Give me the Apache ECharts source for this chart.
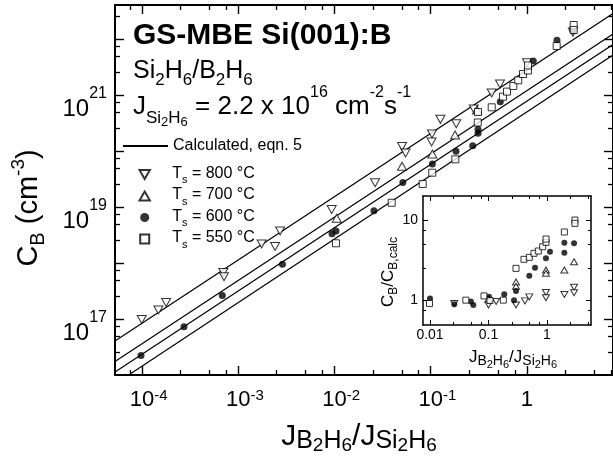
<!DOCTYPE html>
<html>
<head>
<meta charset="utf-8">
<script src="https://cdn.jsdelivr.net/npm/echarts@6/dist/echarts.min.js"></script>
<style>
html,body{margin:0;padding:0;background:#fff;}
#c{width:613px;height:466px;}
</style>
</head>
<body>
<div id="c"></div>
<script>
const FONT = "'Liberation Sans', Arial, Helvetica, sans-serif";

// ---------- main plot: J_B2H6/J_Si2H6 (x) vs C_B in cm^-3 (y) ----------
const x800 = [9.93e-5, 1.48e-4, 1.78e-4, 6.99e-4, 7.11e-4, 1.75e-3, 2.41e-3, 2.72e-3, 9.35e-3, 2.64e-2, 5.03e-2, 5.47e-2, 0.103, 0.102, 0.126, 0.184, 0.28, 0.43, 0.524, 1.0, 3.0];
const y800 = [9.8e16, 1.45e17, 1.97e17, 6.77e17, 5.69e17, 2.18e18, 1.97e18, 3.73e18, 9.02e18, 2.72e19, 1.2e20, 9.21e19, 2.01e20, 1.45e20, 3.68e20, 3.07e20, 5.62e20, 1.09e21, 1.57e21, 3.78e21, 1.33e22];
const x700 = [1.054e-2, 5.03e-2, 0.104, 0.179, 0.302];
const y700 = [6.28e18, 5.33e19, 8.84e19, 1.93e20, 5.4e20];
const x600 = [9.76e-5, 2.73e-4, 6.83e-4, 2.88e-3, 9.42e-3, 1.036e-2, 2.57e-2, 5.13e-2, 0.104, 0.183, 0.273, 0.31, 0.31, 0.528, 1.163, 2.05, 3.0];
const y600 = [2.23e16, 7.29e16, 2.63e17, 9.52e17, 3.34e18, 3.73e18, 8.59e18, 2.74e19, 5.86e19, 9.88e19, 1.24e20, 2.07e20, 2.44e20, 7.59e20, 4.05e21, 9.48e21, 1.42e22];
const x550 = [1.036e-2, 3.93e-2, 8.25e-2, 0.1037, 0.18, 0.308, 0.31, 0.43, 0.563, 0.62, 0.721, 0.812, 0.909, 1.024, 1.024, 2.035, 3.056, 3.056];
const y550 = [2.25e18, 1.19e19, 2.58e19, 4.1e19, 7.11e19, 3.23e20, 4.97e20, 6.03e20, 9.33e20, 1.15e21, 1.45e21, 1.83e21, 2.37e21, 2.74e21, 3.37e21, 7.5e21, 1.78e22, 1.45e22];

// calculated lines (eqn. 5): end points
const calcX = [5.24e-5, 7.83];
const calcX550 = [7.26e-5, 7.83];
const calc800 = [4.05e16, 2.85e22];
const calc700 = [1.74e16, 1.23e22];
const calc600 = [1.13e16, 7.98e21];
const calc550 = [1.0e16, 5.18e21];

// ---------- inset: C_B / C_B,calc ----------
const ix550 = [0.0098, 0.041, 0.0838, 0.106, 0.179, 0.295, 0.404, 0.498, 0.60, 0.71, 0.844, 0.962, 0.962, 1.98, 3.0, 3.0];
const iy550 = [0.92, 1.01, 1.14, 1.0, 1.01, 2.51, 3.25, 3.44, 3.86, 4.12, 4.66, 5.28, 5.81, 7.1, 10.0, 9.1];
const ix600 = [0.01, 0.026, 0.050, 0.055, 0.102, 0.186, 0.273, 0.295, 0.498, 0.624, 0.96, 1.125, 1.98, 1.98, 2.9];
const iy600 = [1.06, 0.90, 0.97, 0.88, 1.11, 1.20, 1.01, 1.31, 2.03, 2.56, 3.34, 4.04, 5.22, 3.93, 5.14];
const ix700 = [0.10, 0.295, 0.295, 0.96, 0.96, 1.98, 2.9];
const iy700 = [1.04, 1.7, 1.5, 2.39, 2.18, 2.39, 3.03];
const ix800 = [0.026, 0.10, 0.135, 0.295, 0.42, 0.498, 0.96, 0.96, 1.98, 2.9, 2.9];
const iy800 = [0.92, 0.88, 0.97, 0.88, 0.99, 1.11, 1.26, 1.08, 1.19, 1.46, 1.25];

// ---------- axis ranges and ticks ----------
const mainXRange = [5.24e-5, 7.83];
const mainYRange = [1e16, 4.05e22];
const insetXRange = [0.00759, 5.65];
const insetYRange = [0.496, 19.9];

const mainXMajor = [1e-4, 1e-3, 1e-2, 1e-1, 1];
const mainXMinor = [7.5e-5, 2.5e-4, 5e-4, 7.5e-4, 2.5e-3, 5e-3, 7.5e-3, 2.5e-2, 5e-2, 7.5e-2, 0.25, 0.5, 0.75, 2.5, 5, 7.5];
const mainXLabels = [1e-4, 1e-3, 1e-2, 1e-1, 1];
const mainYMajor = [1e17, 1e18, 1e19, 1e20, 1e21, 1e22];
const mainYMinor = [2.5e16, 5e16, 7.5e16, 2.5e17, 5e17, 7.5e17, 2.5e18, 5e18, 7.5e18, 2.5e19, 5e19, 7.5e19, 2.5e20, 5e20, 7.5e20, 2.5e21, 5e21, 7.5e21, 2.5e22];
const mainYLabels = [1e17, 1e19, 1e21];
const insetXMajor = [0.01, 0.1, 1];
const insetXMinor = [0.025, 0.05, 0.075, 0.25, 0.5, 0.75, 2.5, 5];
const insetXLabels = [0.01, 0.1, 1];
const insetYMajor = [1, 10];
const insetYMinor = [0.75, 2.5, 5, 7.5];
const insetYLabels = [1, 10];

const zip = (xs, ys) => xs.map((x, i) => [x, ys[i]]);
const DOWN = 'path://M0,0L10,0L5,8.66Z';
const UP = 'path://M5,0L10,8.66L0,8.66Z';
const SQUARE = 'path://M0,0L10,0L10,10L0,10Z';

function axis(gridIndex, position, range, ticks, tickLen, lineW, tickW, label) {
  return {
    type: 'log', logBase: 10, gridIndex: gridIndex, position: position,
    min: range[0], max: range[1],
    axisLine: {show: lineW > 0, onZero: false, lineStyle: {color: '#000', width: lineW}},
    axisTick: {show: true, inside: true, length: tickLen, customValues: ticks, lineStyle: {color: '#000', width: tickW}},
    minorTick: {show: false},
    splitLine: {show: false},
    axisLabel: label || {show: false},
    axisPointer: {show: false},
    silent: true
  };
}

const tok = (size, pad, extra) => Object.assign({fontSize: size, fontFamily: FONT, color: '#000', padding: [pad, 0, 0, 0], verticalAlign: 'top'}, extra || {});

const mainXLabel = {
  show: true, customValues: mainXLabels, margin: 13, color: '#000',
  formatter: function (v) {
    const e = Math.round(Math.log10(v));
    if (e === 0) return '{b|1}';
    return '{sp|' + e + '}{b|10}{s|' + e + '}';
  },
  rich: {b: tok(22, 1), s: tok(15, 0), sp: tok(15, 0, {color: 'rgba(0,0,0,0)'})}
};
const mainYLabel = {
  show: true, customValues: mainYLabels, margin: 8, color: '#000',
  formatter: function (v) {
    const e = Math.round(Math.log10(v));
    return '{b|10}{s|' + e + '}';
  },
  rich: {b: tok(24, 28), s: tok(16, 17)}
};
const insetXLabel = {
  show: true, customValues: insetXLabels, margin: 3, color: '#000', fontSize: 14, fontFamily: FONT,
  formatter: function (v) { return v >= 1 ? '1' : String(v); }
};
const insetYLabel = {
  show: true, customValues: insetYLabels, margin: 5, color: '#000', fontSize: 14, fontFamily: FONT,
  formatter: function (v) { return String(Math.round(v)); }
};

const xAxes = [
  axis(0, 'bottom', mainXRange, mainXMajor, 9, 2, 1.4, mainXLabel),
  axis(0, 'bottom', mainXRange, mainXMinor, 5, 0, 1.3),
  axis(0, 'top', mainXRange, mainXMajor, 9, 2, 1.4),
  axis(0, 'top', mainXRange, mainXMinor, 5, 0, 1.3),
  axis(1, 'bottom', insetXRange, insetXMajor, 5, 1.5, 1, insetXLabel),
  axis(1, 'bottom', insetXRange, insetXMinor, 3, 0, 1),
  axis(1, 'top', insetXRange, insetXMajor, 5, 1.5, 1),
  axis(1, 'top', insetXRange, insetXMinor, 3, 0, 1)
];
const yAxes = [
  axis(0, 'left', mainYRange, mainYMajor, 9, 2, 1.4, mainYLabel),
  axis(0, 'left', mainYRange, mainYMinor, 5, 0, 1.3),
  axis(0, 'right', mainYRange, mainYMajor, 9, 2, 1.4),
  axis(0, 'right', mainYRange, mainYMinor, 5, 0, 1.3),
  axis(1, 'left', insetYRange, insetYMajor, 5, 1.5, 1, insetYLabel),
  axis(1, 'left', insetYRange, insetYMinor, 3, 0, 1),
  axis(1, 'right', insetYRange, insetYMajor, 5, 1.5, 1),
  axis(1, 'right', insetYRange, insetYMinor, 3, 0, 1)
];

const hollow = {color: '#fff', borderColor: '#000', borderWidth: 1};
const solid = {color: '#000', borderColor: '#000', borderWidth: 0};

function calcLine(xs, ys) {
  return {
    type: 'line', name: 'Calculated, eqn. 5', data: zip(xs, ys), xAxisIndex: 0, yAxisIndex: 0,
    symbol: 'none', showSymbol: false, lineStyle: {color: '#000', width: 1.2}, itemStyle: {color: '#000'},
    silent: true, z: 2, clip: true
  };
}
function pts(name, xs, ys, idx, symbol, size, style) {
  return {
    type: 'scatter', name: name, data: zip(xs, ys), xAxisIndex: idx, yAxisIndex: idx,
    symbol: symbol, symbolSize: size, itemStyle: style, silent: true, z: 3
  };
}

const N800 = 'Ts = 800 °C', N700 = 'Ts = 700 °C', N600 = 'Ts = 600 °C', N550 = 'Ts = 550 °C';
const NCALC = 'Calculated, eqn. 5';

const series = [
  calcLine(calcX, calc800),
  calcLine(calcX, calc700),
  calcLine(calcX, calc600),
  calcLine(calcX550, calc550),
  pts(N800, x800, y800, 0, DOWN, [9, 8], hollow),
  pts(N700, x700, y700, 0, UP, [9, 8], hollow),
  pts(N600, x600, y600, 0, 'circle', 7, solid),
  pts(N550, x550, y550, 0, SQUARE, 7, hollow),
  pts(N800, ix800, iy800, 4, DOWN, [7, 6], hollow),
  pts(N700, ix700, iy700, 4, UP, [7, 6], hollow),
  pts(N600, ix600, iy600, 4, 'circle', 6, solid),
  pts(N550, ix550, iy550, 4, SQUARE, 6, hollow)
];

const gtok = (size, pad, weight) => ({fontSize: size, fontFamily: FONT, fontWeight: weight || 'normal', fill: '#000', padding: [pad, 0, 0, 0], verticalAlign: 'top'});

const graphic = [
  {type: 'text', x: 133, y: 21, z: 10, style: {text: 'GS-MBE Si(001):B', fontSize: 30, fontWeight: 'bold', fontFamily: FONT, fill: '#000', align: 'left', verticalAlign: 'top'}},
  {type: 'text', x: 133, y: 59, z: 10, style: {
    text: '{b|Si}{s|2}{b|H}{s|6}{b|/B}{s|2}{b|H}{s|6}', align: 'left', verticalAlign: 'top', fontFamily: FONT, fill: '#000',
    rich: {b: gtok(25, 0), s: gtok(17, 12.5)}}},
  {type: 'text', x: 133, y: 85, z: 10, style: {
    text: '{b|J}{s|Si}{ss|2}{s|H}{ss|6}{b| = 2.2 x 10}{p|16}{b| cm}{p|-2}{b|s}{p|-1}', align: 'left', verticalAlign: 'top', fontFamily: FONT, fill: '#000',
    rich: {b: gtok(26, 9), s: gtok(17, 24.5), ss: gtok(13, 30.5), p: gtok(16, 0)}}},
  {type: 'text', x: 359, y: 422, z: 10, style: {
    text: '{b|J}{s|B}{ss|2}{s|H}{ss|6}{b|/J}{s|Si}{ss|2}{s|H}{ss|6}', align: 'center', verticalAlign: 'top', fontFamily: FONT, fill: '#000',
    rich: {b: gtok(30, 0), s: gtok(25, 7), ss: gtok(19, 14)}}},
  {type: 'text', x: 29, y: 208, rotation: Math.PI / 2, z: 10, style: {
    text: '{b|C}{s|B}{b| (cm}{p|-3}{b|)}', align: 'center', verticalAlign: 'middle', fontFamily: FONT, fill: '#000',
    rich: {b: gtok(29, 5), s: gtok(20, 18.5), p: gtok(19, 0)}}},
  {type: 'text', x: 513, y: 348.5, z: 10, style: {
    text: '{b|J}{s|B}{ss|2}{s|H}{ss|6}{b|/J}{s|Si}{ss|2}{s|H}{ss|6}', align: 'center', verticalAlign: 'top', fontFamily: FONT, fill: '#000',
    rich: {b: gtok(17, 0), s: gtok(14, 6), ss: gtok(11, 10.5)}}},
  {type: 'text', x: 390, y: 272, rotation: Math.PI / 2, z: 10, style: {
    text: '{b|C}{s|B}{b|/C}{s|B,calc}', align: 'center', verticalAlign: 'middle', fontFamily: FONT, fill: '#000',
    rich: {b: gtok(17, 0), s: gtok(12, 7.5)}}}
];

const legendRich = {
  c: {fontSize: 16, fontFamily: FONT, color: '#000'},
  a: {fontSize: 16, fontFamily: FONT, color: '#000', padding: [2, 0, 0, 0], verticalAlign: 'top'},
  s: {fontSize: 11, fontFamily: FONT, color: '#000', padding: [11, 0, 0, 0], verticalAlign: 'top'}
};
function legendFmt(name) {
  if (name.indexOf('Ts') === 0) return '{a|T}{s|s}{a|' + name.slice(2) + '}';
  return '{c|' + name + '}';
}
function legendBox(left, top, gap, data) {
  return {
    orient: 'vertical', left: left, top: top, padding: 0, itemWidth: 45, itemHeight: 9, itemGap: gap,
    selectedMode: false, symbolKeepAspect: true,
    textStyle: {color: '#000', fontFamily: FONT, fontSize: 16, rich: legendRich},
    formatter: legendFmt, data: data
  };
}

const chart = echarts.init(document.getElementById('c'), null, {renderer: 'canvas'});
chart.setOption({
  animation: false,
  backgroundColor: '#fff',
  textStyle: {fontFamily: FONT, color: '#000'},
  grid: [
    {left: 115, top: 5, right: 0, bottom: 91, containLabel: false, outerBoundsMode: 'none'},
    {left: 423, top: 196, width: 168, height: 129, containLabel: false, outerBoundsMode: 'none', show: true, backgroundColor: '#fff', borderWidth: 0}
  ],
  xAxis: xAxes,
  yAxis: yAxes,
  legend: [
    legendBox(122, 138, 0, [{name: NCALC, itemStyle: {opacity: 0}}]),
    legendBox(138.5, 165.5, 1.5, [{name: N800}, {name: N700}, {name: N600}, {name: N550}])
  ],
  graphic: graphic,
  series: series
});
</script>
</body>
</html>
